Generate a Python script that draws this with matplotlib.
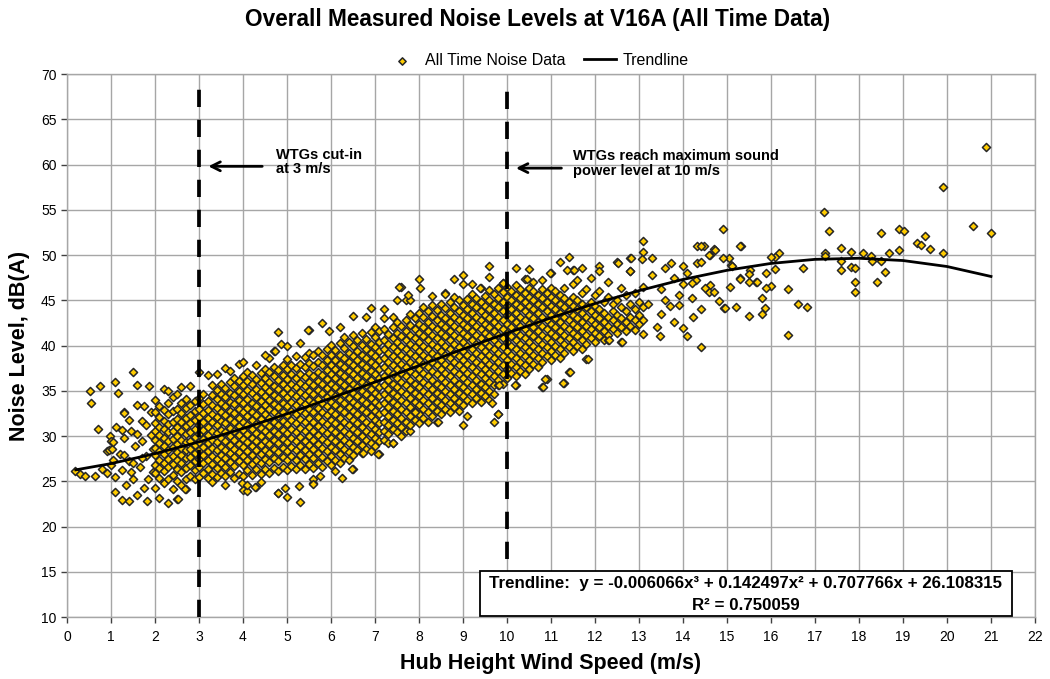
import matplotlib
matplotlib.use("Agg")
import matplotlib.pyplot as plt
from matplotlib.patches import Rectangle

plt.rcParams['font.family'] = ['Liberation Sans', 'DejaVu Sans']

# sparse low wind speed readings (below 2 m/s)
low_speed = [0.19, 0.3, 0.41, 0.52, 0.55, 0.64, 0.71, 0.74, 0.8, 0.9, 0.91, 0.95, 0.98, 1.0, 1.0, 1.03,
             1.05, 1.05, 1.08, 1.1, 1.1, 1.12, 1.17, 1.2, 1.25, 1.25, 1.25, 1.29, 1.3, 1.3, 1.35, 1.4,
             1.4, 1.4, 1.45, 1.5, 1.5, 1.55, 1.59, 1.6, 1.6, 1.65, 1.7, 1.7, 1.75, 1.8, 1.82, 1.86,
             1.9, 1.9, 1.95, 1.95, 1.5, 1.6, 1.7, 1.8, 1.3, 1.45, 1.85, 1.75]
low_noise = [26.1, 25.8, 25.6, 35.0, 33.6, 25.6, 30.8, 35.5, 26.3, 25.9, 28.3, 28.4, 30.0, 26.8, 29.5, 28.6,
             27.4, 29.3, 36.0, 23.8, 25.5, 31.0, 34.8, 28.0, 22.9, 26.2, 30.7, 32.7, 29.8, 32.5, 24.6, 22.8,
             27.2, 31.8, 30.6, 37.1, 25.3, 28.9, 35.6, 33.4, 23.5, 26.6, 31.7, 29.4, 24.3, 27.8, 22.8, 35.5,
             32.6, 30.1, 26.0, 28.6, 27.0, 30.2, 27.6, 31.2, 27.9, 26.0, 25.2, 33.3]

# dense band, one list of readings per 0.1 m/s wind speed step
band_speed = [2.0, 2.1, 2.2, 2.3, 2.4, 2.5, 2.6, 2.7, 2.8, 2.9,
              3.0, 3.1, 3.2, 3.3, 3.4, 3.5, 3.6, 3.7, 3.8, 3.9,
              4.0, 4.1, 4.2, 4.3, 4.4, 4.5, 4.6, 4.7, 4.8, 4.9,
              5.0, 5.1, 5.2, 5.3, 5.4, 5.5, 5.6, 5.7, 5.8, 5.9,
              6.0, 6.1, 6.2, 6.3, 6.4, 6.5, 6.6, 6.7, 6.8, 6.9,
              7.0, 7.1, 7.2, 7.3, 7.4, 7.5, 7.6, 7.7, 7.8, 7.9,
              8.0, 8.1, 8.2, 8.3, 8.4, 8.5, 8.6, 8.7, 8.8, 8.9,
              9.0, 9.1, 9.2, 9.3, 9.4, 9.5, 9.6, 9.7, 9.8, 9.9,
              10.0, 10.1, 10.2, 10.3, 10.4, 10.5, 10.6, 10.7, 10.8, 10.9,
              11.0, 11.1, 11.2, 11.3, 11.4, 11.5, 11.6, 11.7, 11.8, 11.9,
              12.0, 12.1, 12.2, 12.3, 12.4, 12.5, 12.6, 12.7, 12.8, 12.9,
              13.0, 13.1]
band_noise = [
    [24.3, 25.9, 26.8, 27.9, 28.7, 29.6, 30.5, 31.4, 32.6, 34.0],
    [23.1, 25.4, 26.5, 27.4, 28.3, 29.2, 30.1, 31.0, 32.1, 33.3],
    [24.8, 26.1, 27.0, 28.0, 28.9, 29.8, 30.8, 31.7, 32.9, 35.2],
    [22.6, 25.2, 26.6, 27.5, 28.5, 29.4, 30.4, 31.3, 32.4, 33.7],
    [24.1, 25.7, 26.9, 27.8, 28.8, 29.7, 30.6, 31.6, 32.8, 34.3],
    [23.0, 25.0, 26.3, 27.3, 28.2, 29.1, 30.0, 31.0, 31.9, 33.0, 34.6],
    [24.6, 26.0, 27.0, 27.9, 28.7, 29.6, 30.5, 31.5, 32.5, 33.6],
    [24.1, 25.3, 26.5, 27.6, 28.4, 29.3, 30.2, 31.1, 32.0, 33.1, 34.1],
    [25.6, 26.8, 27.7, 28.6, 29.5, 30.4, 31.4, 32.3, 33.4, 35.5],
    [25.2, 26.2, 27.2, 28.1, 29.0, 29.9, 30.8, 31.8, 32.8, 33.9],
    [25.5, 26.6, 27.5, 28.4, 29.3, 30.2, 31.2, 32.1, 33.0, 34.2, 37.1],
    [25.9, 27.0, 27.9, 28.8, 29.7, 30.7, 31.6, 32.5, 33.5, 34.6],
    [25.4, 26.4, 27.4, 28.3, 29.2, 30.1, 31.0, 32.0, 32.9, 33.9, 36.7],
    [25.8, 26.9, 27.8, 28.7, 29.6, 30.5, 31.5, 32.4, 33.4, 34.5, 35.6],
    [25.5, 26.5, 27.5, 28.4, 29.3, 30.3, 31.2, 32.1, 33.1, 34.1, 35.1],
    [25.9, 27.0, 27.9, 28.8, 29.8, 30.7, 31.7, 32.6, 33.6, 34.6, 35.8],
    [25.6, 26.6, 27.6, 28.5, 29.5, 30.4, 31.4, 32.3, 33.3, 34.3, 35.3, 37.5],
    [26.0, 27.1, 28.1, 29.0, 30.0, 30.9, 31.9, 32.8, 33.8, 34.8, 36.0],
    [25.4, 26.7, 27.7, 28.6, 29.6, 30.6, 31.5, 32.5, 33.5, 34.5, 35.5, 36.4],
    [25.8, 27.2, 28.2, 29.1, 30.1, 31.1, 32.0, 33.0, 34.0, 35.0, 36.1, 38.0],
    [24.0, 25.6, 26.8, 27.8, 28.8, 29.7, 30.7, 31.6, 32.6, 33.6, 34.6, 35.6, 36.6, 38.2],
    [26.2, 27.3, 28.3, 29.3, 30.2, 31.2, 32.2, 33.1, 34.1, 35.1, 36.1, 37.1],
    [25.7, 26.9, 27.9, 28.9, 29.8, 30.8, 31.8, 32.7, 33.7, 34.7, 35.7, 36.7],
    [24.4, 26.3, 27.4, 28.4, 29.4, 30.3, 31.3, 32.3, 33.3, 34.3, 35.2, 36.3, 37.8],
    [25.8, 27.0, 28.0, 29.0, 30.0, 30.9, 31.9, 32.9, 33.9, 34.9, 35.9, 37.0],
    [26.4, 27.5, 28.5, 29.5, 30.5, 31.4, 32.4, 33.4, 34.4, 35.4, 36.4, 37.4],
    [25.9, 27.1, 28.1, 29.1, 30.1, 31.1, 32.0, 33.0, 34.0, 35.0, 36.0, 37.1, 38.6],
    [26.5, 27.6, 28.6, 29.6, 30.6, 31.6, 32.6, 33.5, 34.5, 35.5, 36.6, 37.6, 39.4],
    [23.7, 26.1, 27.2, 28.2, 29.2, 30.2, 31.2, 32.2, 33.2, 34.2, 35.2, 36.2, 37.3, 41.5],
    [26.6, 27.7, 28.7, 29.7, 30.7, 31.7, 32.7, 33.7, 34.7, 35.7, 36.7, 37.8],
    [23.3, 26.2, 27.3, 28.3, 29.3, 30.3, 31.3, 32.3, 33.3, 34.3, 35.3, 36.3, 37.4, 38.5],
    [26.7, 27.8, 28.8, 29.8, 30.8, 31.8, 32.8, 33.8, 34.8, 35.8, 36.8, 37.9],
    [26.3, 27.4, 28.4, 29.4, 30.4, 31.4, 32.4, 33.4, 34.4, 35.4, 36.4, 37.5, 38.8],
    [22.7, 26.8, 27.9, 28.9, 29.9, 30.9, 31.9, 32.9, 33.9, 34.9, 35.9, 36.9, 38.0],
    [26.4, 27.5, 28.5, 29.5, 30.5, 31.5, 32.5, 33.5, 34.5, 35.5, 36.5, 37.6, 38.7],
    [26.9, 28.0, 29.0, 30.0, 31.0, 32.0, 33.0, 34.0, 35.0, 36.0, 37.0, 38.1, 39.2, 41.7],
    [24.8, 26.5, 27.6, 28.6, 29.6, 30.6, 31.6, 32.6, 33.6, 34.6, 35.6, 36.6, 37.7, 38.9],
    [27.0, 28.1, 29.1, 30.1, 31.1, 32.1, 33.1, 34.1, 35.1, 36.1, 37.1, 38.2, 39.4],
    [26.6, 27.7, 28.7, 29.7, 30.7, 31.7, 32.7, 33.7, 34.7, 35.7, 36.7, 37.8, 38.9, 42.5],
    [27.2, 28.3, 29.3, 30.3, 31.3, 32.3, 33.3, 34.3, 35.3, 36.3, 37.3, 38.4, 39.6],
    [26.8, 27.8, 28.8, 29.8, 30.8, 31.8, 32.8, 33.8, 34.8, 35.8, 36.8, 37.8, 38.9, 40.1],
    [27.4, 28.4, 29.4, 30.4, 31.4, 32.4, 33.4, 34.4, 35.4, 36.4, 37.4, 38.4, 39.5],
    [27.0, 28.0, 29.0, 30.0, 31.0, 32.0, 33.0, 34.0, 35.0, 36.0, 37.0, 38.0, 39.0, 40.3],
    [27.6, 28.6, 29.6, 30.6, 31.6, 32.6, 33.6, 34.6, 35.6, 36.6, 37.6, 38.6, 39.7, 40.9],
    [27.3, 28.2, 29.2, 30.2, 31.2, 32.2, 33.2, 34.2, 35.2, 36.2, 37.2, 38.2, 39.2, 40.4],
    [26.4, 27.9, 28.8, 29.8, 30.8, 31.8, 32.8, 33.8, 34.8, 35.8, 36.8, 37.8, 38.8, 39.9, 41.2, 43.3],
    [28.4, 29.4, 30.4, 31.4, 32.4, 33.4, 34.4, 35.4, 36.4, 37.4, 38.4, 39.4, 40.6],
    [28.1, 29.0, 30.0, 31.0, 32.0, 33.0, 34.0, 35.0, 36.0, 37.0, 38.0, 39.0, 40.1, 41.4],
    [28.6, 29.6, 30.6, 31.6, 32.6, 33.6, 34.6, 35.6, 36.6, 37.6, 38.6, 39.6, 40.7],
    [28.3, 29.2, 30.2, 31.2, 32.2, 33.2, 34.2, 35.2, 36.2, 37.2, 38.2, 39.2, 40.2, 41.5, 44.1],
    [28.9, 29.8, 30.8, 31.8, 32.8, 33.8, 34.8, 35.8, 36.8, 37.8, 38.8, 39.8, 40.9, 42.1],
    [28.0, 29.4, 30.4, 31.4, 32.4, 33.4, 34.4, 35.4, 36.4, 37.4, 38.4, 39.4, 40.4, 41.6],
    [29.6, 30.6, 31.6, 32.6, 33.6, 34.6, 35.6, 36.6, 37.6, 38.6, 39.6, 40.6, 41.8, 43.0],
    [29.2, 30.2, 31.2, 32.2, 33.2, 34.2, 35.2, 36.2, 37.2, 38.2, 39.2, 40.2, 41.3],
    [29.2, 30.8, 31.8, 32.8, 33.8, 34.8, 35.8, 36.8, 37.8, 38.8, 39.8, 40.8, 42.0, 43.1],
    [30.4, 31.4, 32.4, 33.4, 34.4, 35.4, 36.4, 37.4, 38.4, 39.4, 40.4, 41.4, 42.6],
    [30.0, 31.0, 32.0, 33.0, 34.0, 35.0, 36.0, 37.0, 38.0, 39.0, 40.0, 41.0, 42.2, 46.5],
    [30.6, 31.6, 32.6, 33.6, 34.6, 35.6, 36.6, 37.6, 38.6, 39.6, 40.6, 41.6, 42.8, 45.0],
    [30.5, 31.2, 32.2, 33.2, 34.2, 35.2, 36.2, 37.2, 38.2, 39.2, 40.2, 41.2, 42.3, 43.5, 45.0],
    [31.8, 32.8, 33.8, 34.8, 35.8, 36.8, 37.8, 38.8, 39.8, 40.8, 41.8, 43.0],
    [31.4, 32.4, 33.4, 34.4, 35.4, 36.4, 37.4, 38.4, 39.4, 40.4, 41.4, 42.4, 43.6, 47.3],
    [32.0, 33.0, 34.0, 35.0, 36.0, 37.0, 38.0, 39.0, 40.0, 41.0, 42.0, 43.1, 44.2],
    [31.6, 32.6, 33.6, 34.6, 35.6, 36.6, 37.6, 38.6, 39.6, 40.6, 41.6, 42.6, 43.8],
    [32.2, 33.2, 34.2, 35.2, 36.2, 37.2, 38.2, 39.2, 40.2, 41.2, 42.2, 43.3, 44.5],
    [31.5, 32.8, 33.8, 34.8, 35.8, 36.8, 37.8, 38.8, 39.8, 40.8, 41.8, 42.8, 43.9],
    [32.4, 33.4, 34.4, 35.4, 36.4, 37.4, 38.4, 39.4, 40.4, 41.4, 42.4, 43.4, 44.6],
    [33.0, 34.0, 35.0, 36.0, 37.0, 38.0, 39.0, 40.0, 41.0, 42.0, 43.0, 44.1, 45.8],
    [32.6, 33.6, 34.6, 35.6, 36.6, 37.6, 38.6, 39.6, 40.6, 41.6, 42.6, 43.6, 44.8],
    [33.2, 34.2, 35.2, 36.2, 37.2, 38.2, 39.2, 40.2, 41.2, 42.2, 43.2, 44.3, 45.4, 47.3],
    [32.8, 33.8, 34.8, 35.8, 36.8, 37.8, 38.8, 39.8, 40.8, 41.8, 42.8, 43.8, 45.0],
    [31.2, 33.4, 34.4, 35.4, 36.4, 37.4, 38.4, 39.4, 40.4, 41.4, 42.4, 43.4, 44.5, 47.8],
    [34.0, 35.0, 36.0, 37.0, 38.0, 39.0, 40.0, 41.0, 42.0, 43.0, 44.0, 45.1],
    [33.6, 34.6, 35.6, 36.6, 37.6, 38.6, 39.6, 40.6, 41.6, 42.6, 43.6, 44.6, 45.7],
    [34.2, 35.2, 36.2, 37.2, 38.2, 39.2, 40.2, 41.2, 42.2, 43.2, 44.2, 45.3],
    [33.8, 34.8, 35.8, 36.8, 37.8, 38.8, 39.8, 40.8, 41.8, 42.8, 43.8, 44.8, 46.3],
    [34.4, 35.4, 36.4, 37.4, 38.4, 39.4, 40.4, 41.4, 42.4, 43.4, 44.4, 45.5],
    [34.0, 35.0, 36.0, 37.0, 38.0, 39.0, 40.0, 41.0, 42.0, 43.0, 44.0, 45.0, 46.1, 48.8],
    [31.6, 34.6, 35.6, 36.6, 37.6, 38.6, 39.6, 40.6, 41.6, 42.6, 43.6, 44.6, 45.7],
    [32.4, 35.6, 36.2, 37.2, 38.2, 39.2, 40.2, 41.2, 42.2, 43.2, 44.2, 45.2, 46.3],
    [35.8, 36.8, 37.8, 38.8, 39.8, 40.8, 41.8, 42.8, 43.8, 44.8, 45.9, 46.9],
    [36.4, 37.4, 38.4, 39.4, 40.4, 41.4, 42.4, 43.4, 44.4, 45.4, 46.5],
    [37.0, 38.0, 39.0, 40.0, 41.0, 42.0, 43.0, 44.0, 45.0, 46.0],
    [35.6, 36.6, 37.6, 38.6, 39.6, 40.6, 41.6, 42.6, 43.6, 44.6, 45.6, 46.7, 48.6],
    [37.2, 38.2, 39.2, 40.2, 41.2, 42.2, 43.2, 44.2, 45.2, 46.2],
    [36.8, 37.8, 38.8, 39.8, 40.8, 41.8, 42.8, 43.8, 44.8, 45.8, 47.4],
    [37.4, 38.4, 39.4, 40.4, 41.4, 42.4, 43.4, 44.4, 45.4, 46.4],
    [38.0, 39.0, 40.0, 41.0, 42.0, 43.0, 44.0, 45.0, 46.0, 47.0],
    [37.6, 38.6, 39.6, 40.6, 41.6, 42.6, 43.6, 44.6, 45.6],
    [35.4, 38.2, 39.2, 40.2, 41.2, 42.2, 43.2, 44.2, 45.2, 46.2, 47.2],
    [36.3, 38.8, 39.8, 40.8, 41.8, 42.8, 43.8, 44.8, 45.8],
    [38.4, 39.4, 40.4, 41.4, 42.4, 43.4, 44.4, 45.4, 46.4, 48.0],
    [39.0, 40.0, 41.0, 42.0, 43.0, 44.0, 45.0, 46.0],
    [38.6, 39.6, 40.6, 41.6, 42.6, 43.6, 44.6, 45.6, 49.2],
    [35.9, 39.2, 40.2, 41.2, 42.2, 43.2, 44.2, 45.2, 46.4],
    [37.1, 39.8, 40.8, 41.8, 42.8, 43.8, 44.8, 49.8],
    [39.4, 40.4, 41.4, 42.4, 43.4, 44.4, 45.4, 46.8, 48.3],
    [40.0, 41.0, 42.0, 43.0, 44.0, 45.0, 47.2],
    [39.6, 40.6, 41.6, 42.6, 43.6, 44.6, 45.8],
    [38.5, 40.2, 41.2, 42.2, 43.2, 44.2, 46.2],
    [40.8, 41.8, 42.8, 43.8, 44.8, 47.5],
    [40.4, 41.4, 42.4, 43.4, 44.4, 45.6],
    [41.0, 42.0, 43.0, 44.0, 46.0, 48.8],
    [40.6, 41.6, 42.6, 43.6, 44.8],
    [40.6, 41.2, 42.2, 43.2, 45.4, 47.0],
    [41.8, 42.8, 43.8, 44.6],
    [41.4, 42.4, 43.4, 45.0, 49.2],
    [40.4, 42.0, 43.0, 44.2, 46.3],
    [41.6, 42.6, 43.8, 45.6],
    [42.2, 43.2, 44.6, 48.2, 49.7],
    [41.7, 42.8, 44.0, 45.8],
    [42.4, 43.4, 44.8],
    [41.3, 42.8, 44.2, 46.5, 50.3, 51.5],
]

# ragged readings along the upper and lower edges of the band
edge_speed = [2.52, 2.68, 3.3, 3.6, 3.97, 4.08, 4.1, 4.27, 4.4, 4.8, 4.95, 5.27, 5.6, 5.6, 5.75, 6.1,
              6.25, 6.47, 6.73, 7.06, 7.4, 7.92, 8.43, 9.09, 9.67, 9.79, 9.82, 10.18, 10.81, 10.86,
              11.27, 11.43, 11.84, 12.32, 12.61,
              2.3, 2.6, 3.4, 3.7, 4.5, 4.72, 4.86, 5.0, 5.3, 5.48, 5.95, 6.2, 6.8, 7.2, 7.5, 7.55,
              7.76, 8.02, 8.3, 8.59, 8.99, 9.2, 9.39, 9.59, 9.92, 10.45, 10.5, 10.98, 11.36, 11.52,
              11.7, 12.08, 12.8]
edge_noise = [23.0, 24.1, 24.9, 24.6, 24.8, 23.9, 24.6, 24.4, 24.9, 23.7, 24.2, 24.5, 25.3, 24.7, 25.6, 26.1,
              25.4, 26.3, 28.1, 28.0, 29.2, 32.6, 31.5, 32.2, 33.6, 32.4, 35.6, 35.6, 35.4, 36.3,
              35.9, 37.1, 38.5, 40.6, 40.4,
              35.0, 35.4, 36.9, 37.2, 39.0, 39.4, 40.2, 40.0, 40.3, 41.7, 41.6, 42.1, 43.2, 44.0, 45.0, 46.5,
              45.6, 46.4, 45.5, 45.7, 46.8, 46.8, 46.3, 47.6, 46.9, 47.4, 48.4, 48.0, 48.3, 48.3,
              48.6, 48.2, 48.2]

# scattered readings above 13 m/s
high_speed = [13.07, 13.3, 12.81, 12.52, 13.72, 14.31, 14.47, 14.7, 14.61, 14.31, 14.4, 15.32, 15.05,
              15.1, 15.3, 15.67, 15.52, 14.41, 14.08, 13.99, 14.23, 14.93, 15.2, 15.5, 13.48, 13.4,
              17.21, 17.31, 20.89, 19.91, 20.6, 21.0, 18.92, 19.02, 18.49, 19.31, 19.42, 19.51, 19.61,
              19.91, 18.92, 18.69, 18.1, 18.28, 18.3, 18.49, 17.81, 17.6, 17.6, 17.6, 17.81, 17.9, 17.9,
              17.9, 18.59, 18.4, 17.22, 17.22, 16.72, 16.61, 16.82, 16.39, 16.39, 16.19, 16.1, 15.99,
              16.1, 15.99, 15.88, 15.88, 15.8, 15.87, 15.79, 14.95, 14.82, 14.91, 15.3, 15.5, 15.5,
              15.69, 15.3, 15.06, 15.12, 14.9, 14.72, 14.41, 14.6, 14.61, 14.6, 14.7,
              13.5, 13.6, 13.8, 13.9, 14.0, 14.1, 14.2, 14.3, 14.4, 14.5, 13.3, 13.6, 13.2, 13.5,
              13.8, 14.0, 13.7, 13.9, 14.2]
high_noise = [49.6, 49.7, 49.7, 49.1, 49.1, 51.0, 51.0, 50.7, 50.0, 49.1, 49.2, 51.0, 49.7,
              48.9, 47.5, 47.0, 48.3, 39.8, 41.0, 41.9, 43.1, 44.1, 44.3, 43.3, 41.0, 42.1,
              54.8, 52.6, 61.9, 57.5, 53.2, 52.4, 52.9, 52.7, 52.4, 51.3, 51.1, 52.1, 50.7,
              50.2, 50.5, 50.2, 50.2, 49.9, 49.3, 49.3, 50.3, 50.8, 49.3, 48.3, 48.7, 48.6, 47.0,
              45.9, 48.1, 47.0, 50.2, 49.9, 48.6, 44.6, 44.3, 46.2, 41.2, 50.2, 49.8, 49.8,
              48.5, 46.6, 46.4, 48.0, 45.2, 44.1, 43.5, 44.1, 44.9, 52.9, 51.0, 47.9, 47.0,
              47.0, 47.4, 46.5, 48.8, 49.7, 50.6, 51.0, 50.0, 46.7, 45.9, 45.9,
              46.2, 45.0, 47.5, 44.5, 46.8, 48.0, 45.2, 47.2, 44.0, 46.4, 47.8, 48.6, 44.6, 43.5,
              42.6, 48.8, 44.4, 45.6, 46.9]

# cubic trendline values read at each wind speed
trend_speed = [0.2, 1, 2, 3, 4, 5, 6, 7, 8, 9, 10, 11, 12, 13, 14, 15, 16, 17, 18, 19, 20, 21]
trend_noise = [26.26, 26.95, 28.05, 29.35, 30.83, 32.45, 34.18, 35.96, 37.78, 39.60, 41.37, 43.06,
               44.64, 46.06, 47.30, 48.31, 49.07, 49.52, 49.64, 49.39, 48.73, 47.63]

cut_in_speed = 3
max_power_speed = 10

speed = list(low_speed)
noise = list(low_noise)
for s, col in zip(band_speed, band_noise):
    for n in col:
        speed.append(s)
        noise.append(n)
speed += edge_speed + high_speed
noise += edge_noise + high_noise

fig = plt.figure(figsize=(10.5, 6.79), dpi=100)
ax = fig.add_axes([0.0638, 0.0913, 0.9219, 0.7997])

grid_col = '#a6a6a6'
ax.set_xlim(0, 22)
ax.set_ylim(10, 70)
ax.set_xticks(range(0, 23))
ax.set_yticks(range(10, 71, 5))
ax.grid(True, color=grid_col, linewidth=1.0)
ax.set_axisbelow(True)
for sp in ax.spines.values():
    sp.set_color(grid_col)
    sp.set_linewidth(1.0)
ax.tick_params(axis='both', colors='#404040', labelcolor='black', labelsize=10, length=4, width=1.0)
ax.tick_params(axis='x', pad=5)

pts = ax.scatter(speed, noise, marker='D', s=17, facecolor='#FFCC00', edgecolor='#262626',
                 linewidths=1.1, zorder=3, label='All Time Noise Data')
trend, = ax.plot(trend_speed, trend_noise, color='black', linewidth=2.0, zorder=5, label='Trendline')

ax.plot([cut_in_speed, cut_in_speed], [10, 68.8], color='black', linewidth=2.7,
        linestyle=(0, (4.6, 3.4)), zorder=4)
ax.plot([max_power_speed, max_power_speed], [16.4, 68.6], color='black', linewidth=2.7,
        linestyle=(0, (4.6, 3.4)), zorder=4)

ax.annotate('', xy=(3.15, 59.8), xytext=(4.5, 59.8),
            arrowprops=dict(arrowstyle='->', color='black', lw=2.0, mutation_scale=16), zorder=6)
ax.text(4.76, 60.3, 'WTGs cut-in\nat 3 m/s', fontsize=10.5, fontweight='bold', ha='left', va='center',
        linespacing=1.05, zorder=6)
ax.annotate('', xy=(10.14, 59.6), xytext=(11.3, 59.6),
            arrowprops=dict(arrowstyle='->', color='black', lw=2.0, mutation_scale=16), zorder=6)
ax.text(11.5, 60.1, 'WTGs reach maximum sound\npower level at 10 m/s', fontsize=10.5, fontweight='bold',
        ha='left', va='center', linespacing=1.05, zorder=6)

ax.add_patch(Rectangle((9.39, 10.1), 12.09, 5.0, facecolor='white', edgecolor='black',
                       linewidth=1.3, zorder=7))
ax.text(15.43, 13.7, 'Trendline:  y = -0.006066x\u00b3 + 0.142497x\u00b2 + 0.707766x + 26.108315',
        fontsize=12.2, fontweight='bold', ha='center', va='center', zorder=8)
ax.text(15.43, 11.3, 'R\u00b2 = 0.750059', fontsize=12.2, fontweight='bold', ha='center', va='center',
        zorder=8)

ax.set_xlabel('Hub Height Wind Speed (m/s)', fontsize=15.5, fontweight='bold', labelpad=7)
ax.set_ylabel('Noise Level, dB(A)', fontsize=15.5, fontweight='bold', labelpad=8)

fig.text(0.512, 0.972, 'Overall Measured Noise Levels at V16A (All Time Data)', fontsize=16.3,
         fontweight='bold', ha='center', va='center')
fig.legend(handles=[pts, trend], loc='center', bbox_to_anchor=(0.512, 0.911), ncol=2, frameon=False,
           fontsize=11.5, handlelength=2.0, handletextpad=0.4, columnspacing=1.2, scatterpoints=1,
           markerscale=0.9)

fig.savefig('out.png', dpi=100)
